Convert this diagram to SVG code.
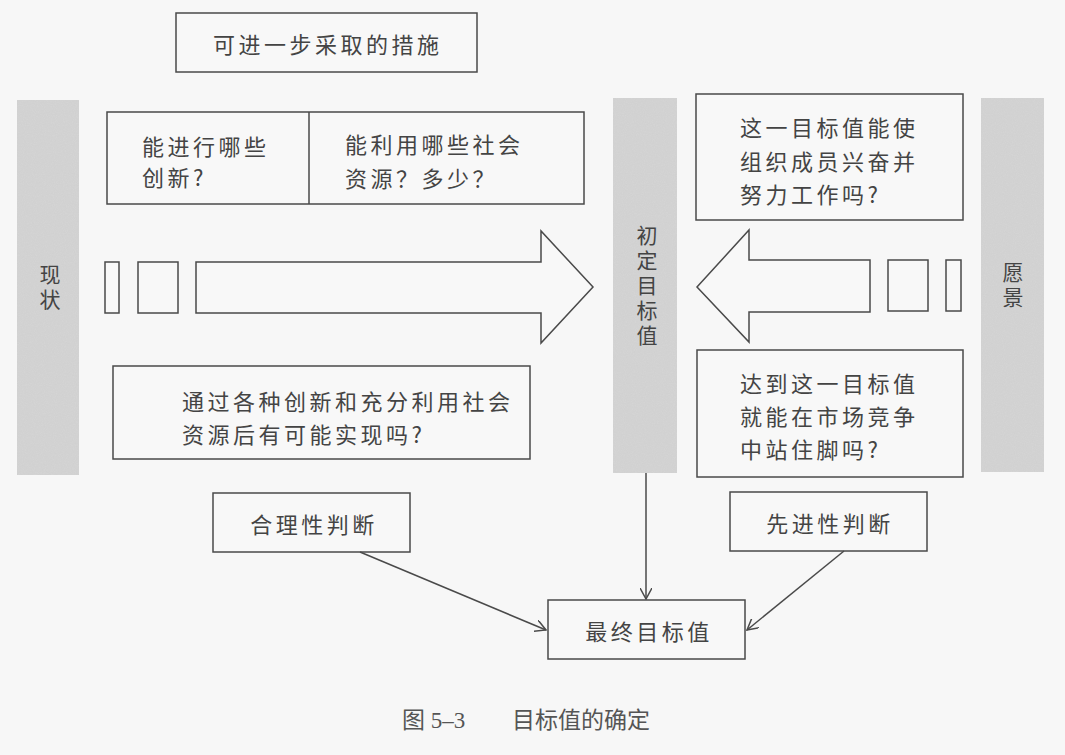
<svg xmlns="http://www.w3.org/2000/svg" width="1065" height="755" viewBox="0 0 1065 755">
<style>
.bg{fill:#f7f7f7}
.box{fill:#f8f8f8;stroke:#4a4a4a;stroke-width:1.5}
.bar{fill:#d5d5d5}
.t{font-family:"Noto Sans CJK SC","Noto Sans",sans-serif;font-size:22px;fill:#444444;letter-spacing:3.5px;dominant-baseline:central}
.v{font-family:"Noto Sans CJK SC","Noto Sans",sans-serif;font-size:21px;fill:#444444;writing-mode:vertical-rl;letter-spacing:4px}
.c{text-anchor:middle}
.cap{font-family:"Liberation Serif","Noto Sans CJK SC",serif;font-size:23px;fill:#555555;dominant-baseline:central}
.ln{fill:none;stroke:#4a4a4a;stroke-width:1.5}
</style>
<defs>
<filter id="noise" x="0" y="0" width="100%" height="100%">
<feTurbulence type="fractalNoise" baseFrequency="0.9" numOctaves="2" seed="3" result="n"/>
<feColorMatrix in="n" type="matrix" values="0 0 0 0 0.55  0 0 0 0 0.55  0 0 0 0 0.55  0 0 0 0.35 0" result="g"/>
<feComposite in="g" in2="SourceGraphic" operator="in" result="gm"/>
<feMerge><feMergeNode in="SourceGraphic"/><feMergeNode in="gm"/></feMerge>
</filter>
<marker id="arr" viewBox="0 0 12 12" refX="11" refY="6" markerWidth="12" markerHeight="12" markerUnits="userSpaceOnUse" orient="auto">
<path d="M0,0 L11,6 L0,12" fill="none" stroke="#4a4a4a" stroke-width="1.5"/>
</marker>
</defs>
<rect class="bg" x="0" y="0" width="1065" height="755"/>

<g id="top">
<rect class="box" x="176" y="13" width="301" height="59"/>
<text class="t" x="213" y="43">可进一步采取的措施</text>
</g>

<g id="status">
<rect class="bar" x="17" y="100" width="62" height="375" filter="url(#noise)"/>
<text class="v" x="50" y="264">现状</text>
</g>

<g id="initial">
<rect class="bar" x="613" y="98" width="64" height="375" filter="url(#noise)"/>
<text class="v" x="647" y="225">初定目标值</text>
</g>

<g id="vision">
<rect class="bar" x="981" y="98" width="63" height="374" filter="url(#noise)"/>
<text class="v" x="1013" y="262">愿景</text>
</g>

<g id="measures">
<rect class="box" x="107" y="112" width="477" height="92"/>
<line class="ln" x1="309" y1="112" x2="309" y2="204"/>
<text class="t" x="142" y="145">能进行哪些</text>
<text class="t" x="142" y="176">创新?</text>
<text class="t" x="345" y="143">能利用哪些社会</text>
<text class="t" x="345" y="177">资源？多少？</text>
</g>

<g id="feasible">
<rect class="box" x="113" y="366" width="417" height="93"/>
<text class="t" x="182" y="400">通过各种创新和充分利用社会</text>
<text class="t" x="182" y="433">资源后有可能实现吗?</text>
</g>

<g id="motivate">
<rect class="box" x="696" y="94" width="267" height="126"/>
<text class="t" x="740" y="126">这一目标值能使</text>
<text class="t" x="740" y="160">组织成员兴奋并</text>
<text class="t" x="740" y="193">努力工作吗?</text>
</g>

<g id="compete">
<rect class="box" x="697" y="350" width="266" height="127"/>
<text class="t" x="740" y="382">达到这一目标值</text>
<text class="t" x="740" y="415">就能在市场竞争</text>
<text class="t" x="740" y="448">中站住脚吗?</text>
</g>

<g id="arrowRight">
<rect class="box" x="105" y="262" width="14" height="51"/>
<rect class="box" x="138" y="262" width="40" height="51"/>
<polygon class="box" points="196,262 541,262 541,231 593,287 541,343 541,313 196,313"/>
</g>

<g id="arrowLeft">
<polygon class="box" points="870,260 749,260 749,230 697,287 749,342 749,312 870,312"/>
<rect class="box" x="888" y="260" width="40" height="51"/>
<rect class="box" x="946" y="260" width="15" height="51"/>
</g>

<g id="reasonable">
<rect class="box" x="213" y="493" width="197" height="59"/>
<text class="t c" x="314" y="523">合理性判断</text>
</g>

<g id="advanced">
<rect class="box" x="730" y="492" width="197" height="59"/>
<text class="t c" x="830" y="522">先进性判断</text>
</g>

<g id="final">
<rect class="box" x="548" y="600" width="197" height="59"/>
<text class="t c" x="649" y="630">最终目标值</text>
</g>

<g id="connectors">
<line class="ln" x1="646" y1="473" x2="646" y2="599" marker-end="url(#arr)"/>
<line class="ln" x1="360" y1="552" x2="546" y2="630" marker-end="url(#arr)"/>
<line class="ln" x1="844" y1="551" x2="747" y2="630" marker-end="url(#arr)"/>
</g>

<text class="cap" x="402" y="720">图 5–3</text>
<text class="cap" x="512" y="720">目标值的确定</text>
</svg>
